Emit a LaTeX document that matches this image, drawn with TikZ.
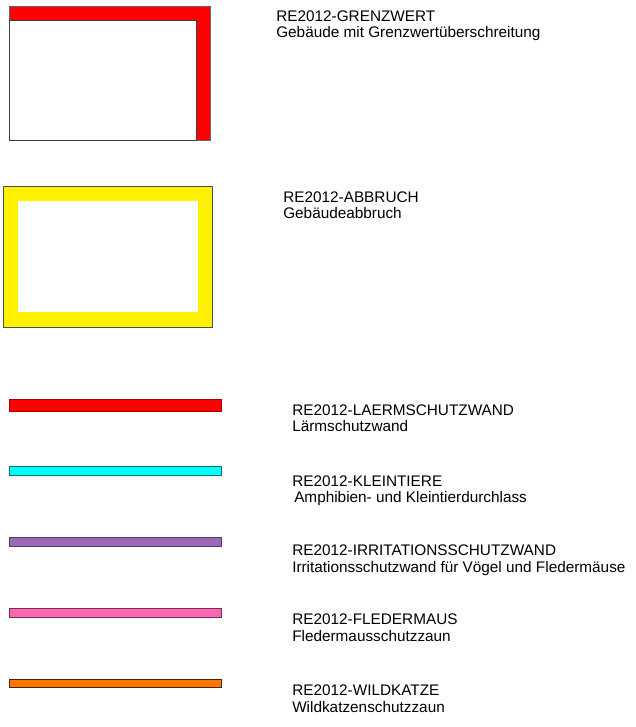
\documentclass[tikz,border=0pt]{standalone}
\usepackage{fontspec}
\setmainfont{Liberation Sans}
\usetikzlibrary{positioning}

\definecolor{laermred}{RGB}{255,0,0}
\definecolor{kleincyan}{RGB}{0,255,255}
\definecolor{irrpurple}{RGB}{155,104,185}
\definecolor{fledpink}{RGB}{255,102,178}
\definecolor{wildorange}{RGB}{255,119,0}

\tikzset{
  legtext/.style={anchor=base west, inner sep=0pt,
                  font=\fontsize{11.5pt}{12pt}\selectfont},
  legline/.style={line width=0.5pt}
}

\begin{document}
\begin{tikzpicture}[x=0.75pt, y=-0.75pt]
  \useasboundingbox (0,0) rectangle (635,727);

  % Grenzwert: red corner band
  \filldraw[fill=laermred, draw=black!60, line width=0.75pt]
    (9,7) rectangle (210,141);
  \filldraw[fill=white, draw=black!75, line width=0.75pt]
    (9,21) rectangle (196,141);
  \node[legtext] (grenz) at (276,22) {RE2012-GRENZWERT};
  \node[legtext] (grenzTxt) at (276,38) {Gebäude mit Grenzwertüberschreitung};

  % Abbruch: yellow frame
  \filldraw[fill=yellow, draw=black!70, line width=0.75pt]
    (3,187) rectangle (212,327);
  \fill[white] (18,201) rectangle (198,312);
  \node[legtext] (abbruch) at (283,203) {RE2012-ABBRUCH};
  \node[legtext] (abbruchTxt) at (283,219) {Gebäudeabbruch};

  % line symbols
  \filldraw[legline, fill=laermred, draw=laermred!65!black]
    (9,399) rectangle (221,411);
  \node[legtext] (laerm) at (292,415) {RE2012-LAERMSCHUTZWAND};
  \node[legtext] (laermTxt) at (292,431) {Lärmschutzwand};

  \filldraw[legline, fill=kleincyan, draw=kleincyan!45!black]
    (9,466) rectangle (221,475);
  \node[legtext] (klein) at (292,486) {RE2012-KLEINTIERE};
  \node[legtext] (kleinTxt) at (294,502) {Amphibien- und Kleintierdurchlass};

  \filldraw[legline, fill=irrpurple, draw=irrpurple!55!black]
    (9,537) rectangle (221,546);
  \node[legtext] (irr) at (292,555) {RE2012-IRRITATIONSSCHUTZWAND};
  \node[legtext] (irrTxt) at (292,572) {Irritationsschutzwand für Vögel und Fledermäuse};

  \filldraw[legline, fill=fledpink, draw=fledpink!45!black]
    (9,608) rectangle (221,617);
  \node[legtext] (fleder) at (292,624) {RE2012-FLEDERMAUS};
  \node[legtext] (flederTxt) at (292,641) {Fledermausschutzzaun};

  \filldraw[legline, fill=wildorange, draw=wildorange!30!black]
    (9,679) rectangle (221,687);
  \node[legtext] (wild) at (292,695) {RE2012-WILDKATZE};
  \node[legtext] (wildTxt) at (292,712) {Wildkatzenschutzzaun};
\end{tikzpicture}
\end{document}
